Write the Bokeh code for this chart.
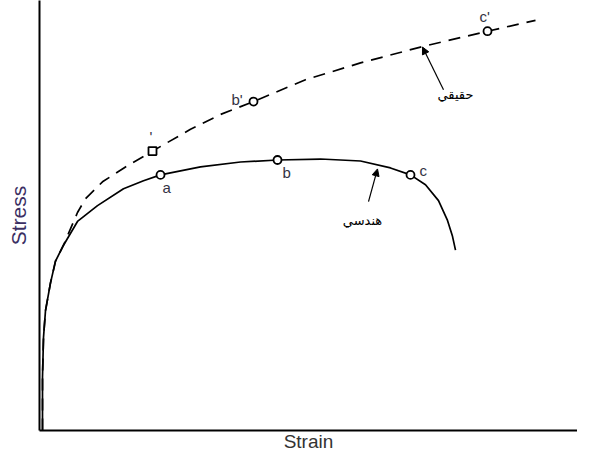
from bokeh.plotting import figure
from bokeh.models import Range1d, Label, Arrow, NormalHead, FixedTicker
from bokeh.embed import file_html
from bokeh.resources import INLINE

# Engineering stress-strain curve (solid)
eng_strain = [3, 3, 4, 6, 11, 16, 24, 38, 58, 84, 104, 121, 161, 201, 238, 281, 321, 351, 371, 386, 399, 408, 413, 416]
eng_stress = [2, 56, 96, 123, 151, 173, 189, 213, 229, 246, 254, 260, 268, 273, 275, 276, 274, 267, 260, 250, 234, 214, 198, 184]

# True stress-strain curve (dashed)
true_strain = [3, 3, 4, 6, 11, 16, 24, 38, 46, 63, 86, 113, 151, 181, 214, 266, 321, 381, 448, 496]
true_stress = [2, 56, 96, 123, 151, 173, 189, 222, 236, 253, 268, 284, 306, 321, 334, 356, 373, 389, 405, 416]

# Marked points
eng_pts_x = [121, 238, 371]
eng_pts_y = [260, 275, 260]
true_pts_x = [113, 214, 448]
true_pts_y = [284, 334, 405]

p = figure(width=577, height=454, output_backend="svg", toolbar_location=None,
           x_range=Range1d(0, 538), y_range=Range1d(2, 436),
           min_border_left=39, min_border_bottom=20, min_border_top=0, min_border_right=0)
p.grid.visible = False
p.outline_line_color = None
p.background_fill_color = "white"
p.border_fill_color = "white"

for ax in (p.xaxis, p.yaxis):
    ax.ticker = FixedTicker(ticks=[])
    ax.major_tick_line_color = None
    ax.minor_tick_line_color = None
    ax.major_label_text_font_size = "0px"
    ax.axis_line_width = 2
    ax.axis_line_color = "black"
    ax.axis_label_text_font = "Liberation Sans"
    ax.axis_label_text_font_style = "normal"

p.xaxis.axis_label = "Strain"
p.xaxis.axis_label_text_color = "#333333"
p.xaxis.axis_label_text_font_size = "19px"
p.xaxis.axis_label_standoff = 0
p.yaxis.axis_label = "Stress"
p.yaxis.axis_label_text_color = "#3b2f63"
p.yaxis.axis_label_text_font_size = "21px"
p.yaxis.axis_label_standoff = 10

p.line(eng_strain, eng_stress, line_color="black", line_width=1.7)
p.line(true_strain, true_stress, line_color="black", line_width=1.7, line_dash="12 8")

p.scatter(eng_pts_x, eng_pts_y, marker="circle", size=8, fill_color="white",
          line_color="black", line_width=1.8)
p.scatter(true_pts_x[:1], true_pts_y[:1], marker="square", size=8, fill_color="white",
          line_color="black", line_width=1.8)
p.scatter(true_pts_x[1:], true_pts_y[1:], marker="circle", size=8, fill_color="white",
          line_color="black", line_width=1.8)

lbl_style = dict(text_font="Liberation Sans", text_font_size="15px", text_color="#333344")
p.add_layout(Label(x=eng_pts_x[0] + 2, y=eng_pts_y[0] - 4, text="a", text_baseline="top", **lbl_style))
p.add_layout(Label(x=eng_pts_x[1] + 5, y=eng_pts_y[1] - 4, text="b", text_baseline="top", **lbl_style))
p.add_layout(Label(x=eng_pts_x[2] + 9, y=eng_pts_y[2] + 4, text="c", text_baseline="middle", **lbl_style))
p.add_layout(Label(x=true_pts_x[0] - 3, y=true_pts_y[0] + 6, text="'", text_baseline="bottom", **lbl_style))
p.add_layout(Label(x=true_pts_x[1] - 22, y=true_pts_y[1] + 2, text="b'", text_baseline="middle", **lbl_style))
p.add_layout(Label(x=true_pts_x[2] - 8, y=true_pts_y[2] + 6, text="c'", text_baseline="bottom", **lbl_style))

ar_style = dict(text_font="DejaVu Sans", text_font_size="13px", text_color="black",
                text_align="center", text_baseline="middle")
p.add_layout(Label(x=416, y=341, text="حقيقي", **ar_style))
p.add_layout(Label(x=323, y=214, text="هندسي", **ar_style))

p.add_layout(Arrow(x_start=404, y_start=346, x_end=383, y_end=389, line_width=1.2,
                   end=NormalHead(size=7, fill_color="black", line_color="black")))
p.add_layout(Arrow(x_start=329, y_start=233, x_end=338, y_end=266, line_width=1.2,
                   end=NormalHead(size=7, fill_color="black", line_color="black")))

open("out.html", "w").write(file_html(p, INLINE))
